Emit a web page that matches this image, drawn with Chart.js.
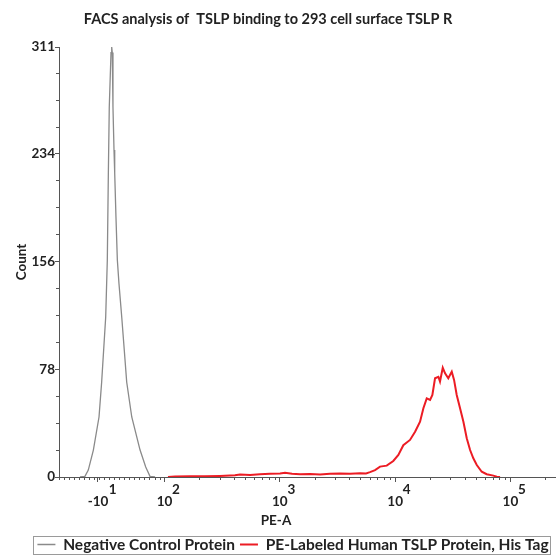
<!DOCTYPE html>
<html lang="en">
<head>
  <meta charset="UTF-8" />
  <title>FACS analysis of TSLP binding</title>
  <script src="https://cdn.jsdelivr.net/npm/chart.js"></script>
  <style>
    html, body { margin: 0; padding: 0; background: #fff; }
    #wrap { width: 556px; height: 558px; }
  </style>
</head>
<body>
  <div id="wrap"><canvas id="facs"></canvas></div>

  <script>
    // x values are in display decades (2 = 10^2, 3 = 10^3 ...)
    const controlX = [1.267, 1.310, 1.339, 1.383, 1.432, 1.455, 1.490, 1.504, 1.513, 1.521, 1.536, 1.542,
                      1.547, 1.553, 1.562, 1.568, 1.579, 1.591, 1.605, 1.629, 1.651, 1.672, 1.716, 1.788,
                      1.837, 1.874, 1.918];
    const controlY = [0, 0.5, 5, 19.5, 43.4, 68.7, 115.7, 157, 220, 267.6, 307, 311,
                      307, 267.6, 236.5, 220, 188, 157, 140, 115.7, 91.9, 68.7, 43.4, 19.5,
                      7.2, 0.5, 0];

    const tslpX = [2.030, 2.091, 2.221, 2.351, 2.481, 2.611, 2.655, 2.742, 2.828, 2.915, 3.002, 3.045,
                   3.106, 3.175, 3.262, 3.349, 3.435, 3.522, 3.609, 3.696, 3.748, 3.782, 3.826, 3.869,
                   3.927, 3.984, 4.028, 4.071, 4.129, 4.173, 4.216, 4.245, 4.274, 4.303, 4.323, 4.346,
                   4.375, 4.389, 4.413, 4.433, 4.461, 4.491, 4.511, 4.534, 4.563, 4.592, 4.621, 4.650,
                   4.678, 4.708, 4.751, 4.794, 4.852, 4.881, 4.910];
    const tslpY = [0, 0.3, 0.5, 0.6, 0.8, 1.2, 1.8, 1.5, 2.0, 2.3, 2.5, 3.0,
                   2.4, 2.0, 2.2, 1.8, 2.3, 2.6, 2.4, 2.8, 2.6, 3.5, 5, 7.5,
                   8.2, 11.6, 15.9, 23, 26.8, 32.8, 40, 49.7, 56.9, 55.7, 59.3, 71.4,
                   72.5, 69, 79, 75, 71.4, 76.2, 70.2, 59.3, 49.7, 40, 28, 19.5,
                   13.5, 8.7, 3.8, 2, 1, 0.2, 0];

    const yTicks = [0, 78, 156, 234, 311];
    const xTickPos = [1.423, 2, 3, 4, 5];
    const xTickBase = ['-10', '10', '10', '10', '10'];
    const xTickExp = ['1', '2', '3', '4', '5'];

    const seriesNames = ['Negative Control Protein', 'PE-Labeled Human TSLP Protein, His Tag'];
    const xMin = 1.085, xMax = 5.395;

    const FONT = 'Lato, "Open Sans", sans-serif';
    const axisColor = '#555';
    const textColor = '#222';
    const PLOT_BOTTOM = 477;

    function toPoints(xs, ys) {
      return xs.map((x, i) => ({ x: x, y: ys[i] }));
    }

    // minor tick marks, x title and the box round the legend
    const extras = {
      id: 'extras',
      afterLayout(chart) {
        const lg = chart.legend;
        const h = lg.height;
        lg.top = 547 - h / 2;
        lg.bottom = lg.top + h;
        lg.left += 15;
        lg.right += 15;
        chart.titleBlock.left -= 10;
        chart.titleBlock.right -= 10;
      },
      afterDraw(chart) {
        const ctx = chart.ctx;
        const x = chart.scales.x, y = chart.scales.y;
        const area = chart.chartArea;
        ctx.save();
        ctx.strokeStyle = axisColor;
        ctx.lineWidth = 1;
        ctx.beginPath();
        for (let v = 19.5; v < 311; v += 19.5) {
          if (Math.abs(v % 78) < 0.01) continue;
          const py = Math.round(y.getPixelForValue(v)) + 0.5;
          ctx.moveTo(area.left - 3, py);
          ctx.lineTo(area.left, py);
        }
        const minors = [];
        for (let v = 2 - 0.0434; v > xMin; v -= 0.0434) minors.push(v);
        for (let d = 2; d <= 5; d++) {
          for (let m = 2; m <= 9; m++) minors.push(d + Math.log10(m));
        }
        minors.forEach(v => {
          if (v <= xMin || v >= xMax) return;
          const px = Math.round(x.getPixelForValue(v)) + 0.5;
          ctx.moveTo(px, area.bottom);
          ctx.lineTo(px, area.bottom + 3);
        });
        ctx.stroke();

        ctx.fillStyle = textColor;
        ctx.font = 'bold 13.5px ' + FONT;
        ctx.textAlign = 'center';
        ctx.textBaseline = 'middle';
        ctx.fillText('PE-A', 276, 521);

        const boxes = chart.legend.legendHitBoxes;
        if (boxes && boxes.length) {
          const l = boxes[0].left;
          const last = boxes[boxes.length - 1];
          const cy = boxes[0].top + boxes[0].height / 2;
          ctx.strokeStyle = '#9a9a9a';
          ctx.strokeRect(Math.round(l) - 3.5, Math.round(cy - 9) + 0.5,
                         Math.round(last.left + last.width - l) + 6, 18);
        }
        ctx.restore();
      }
    };

    new Chart(document.getElementById('facs'), {
      type: 'line',
      data: {
        datasets: [
          {
            label: seriesNames[0],
            data: toPoints(controlX, controlY),
            borderColor: '#8a8a8a',
            backgroundColor: '#8a8a8a',
            borderWidth: 1.3,
            pointRadius: 0,
            tension: 0
          },
          {
            label: seriesNames[1],
            data: toPoints(tslpX, tslpY),
            borderColor: '#ec1c24',
            backgroundColor: '#ec1c24',
            borderWidth: 2,
            pointRadius: 0,
            tension: 0
          }
        ]
      },
      options: {
        responsive: true,
        maintainAspectRatio: false,
        animation: false,
        layout: { padding: 0 },
        plugins: {
          title: {
            display: true,
            text: 'FACS analysis of  TSLP binding to 293 cell surface TSLP R',
            color: textColor,
            font: { family: FONT, size: 14.5, weight: 'bold' },
            padding: { top: 10.3, bottom: 19.3 }
          },
          legend: {
            position: 'bottom',
            labels: {
              color: textColor,
              font: { family: FONT, size: 15.5, weight: 'bold' },
              boxWidth: 18,
              boxHeight: 0,
              padding: 5
            }
          },
          tooltip: { enabled: false }
        },
        scales: {
          x: {
            type: 'linear',
            min: xMin,
            max: xMax,
            afterBuildTicks: s => { s.ticks = xTickPos.map(v => ({ value: v })); },
            afterFit: s => { s.height = s.chart.height - s.chart.legend.height - PLOT_BOTTOM; },
            grid: { display: true, drawOnChartArea: false, tickLength: 5, color: axisColor },
            border: { color: axisColor },
            ticks: {
              autoSkip: false,
              maxRotation: 0,
              padding: 2,
              color: textColor,
              font: { family: FONT, size: 13.5, weight: 'bold', lineHeight: 0.85 },
              callback: (v, i) => {
                const pad = i === 0 ? '         ' : '       ';
                return [pad + xTickExp[i], xTickBase[i]];
              }
            }
          },
          y: {
            min: 0,
            max: 311,
            afterBuildTicks: s => { s.ticks = yTicks.map(v => ({ value: v })); },
            afterFit: s => { s.width = 59; },
            grid: { display: true, drawOnChartArea: false, tickLength: 4, color: axisColor },
            border: { color: axisColor },
            ticks: {
              padding: 0,
              color: textColor,
              font: { family: FONT, size: 13.5, weight: 'bold' }
            },
            title: {
              display: true,
              text: 'Count',
              color: textColor,
              font: { family: FONT, size: 13.5, weight: 'bold' },
              padding: { top: 14, bottom: 0 }
            }
          }
        }
      },
      plugins: [extras]
    });
  </script>
</body>
</html>
